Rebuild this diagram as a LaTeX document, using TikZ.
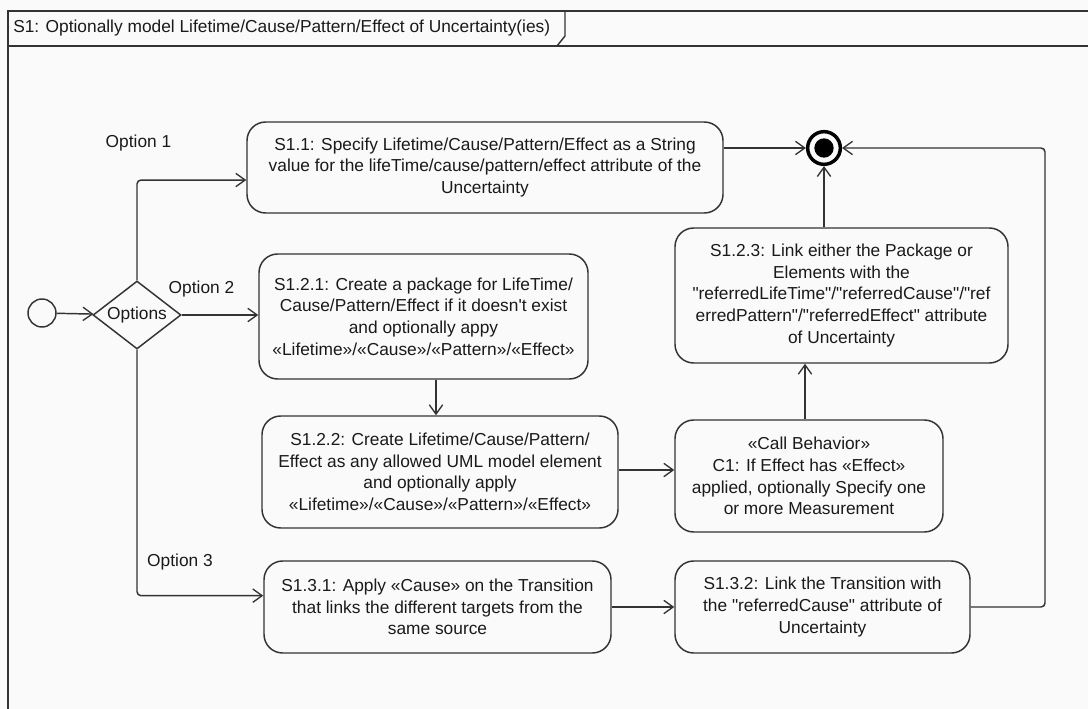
\documentclass[tikz,border=0pt]{standalone}
\usepackage{fontspec}
\setmainfont{Liberation Sans}[Ligatures=TeXOff]
\usetikzlibrary{arrows.meta,shapes.geometric}
\definecolor{ink}{HTML}{333333}
\definecolor{paper}{HTML}{FAFAFA}
\definecolor{txt}{HTML}{1A1A1A}
\begin{document}
\begin{tikzpicture}[x=0.75pt,y=-0.75pt,
  font=\fontsize{13}{16.2}\selectfont,
  action/.style={draw=ink,line width=1.1pt,rounded corners=14pt,align=center,
    inner sep=0pt,text=txt},
  flow/.style={draw=ink,line width=1.1pt,
    -{Straight Barb[length=7pt,width=10pt,line width=1pt]}},
  lbl/.style={inner sep=0pt,text=txt}]
% page and bounding box
\fill[paper] (0,0) rectangle (1088,709);
\useasboundingbox (0,0) rectangle (1088,709);

% activity frame with its name tab
\draw[ink,line width=1.1pt] (1095,11) -- (8,11) -- (8,715);
\draw[ink,line width=1.1pt] (8,46) -- (1095,46);
\draw[ink,line width=1.1pt] (565,11) -- (565,36) -- (557,46);
\node[lbl,anchor=west] (title) at (13,28.5)
  {S1: Optionally model Lifetime/Cause/Pattern/Effect of Uncertainty(ies)};

% control nodes
\node[draw=ink,line width=1.1pt,circle,minimum size=21pt,inner sep=0pt] (init) at (42,313) {};
\node[draw=ink,line width=1.1pt,diamond,minimum width=66pt,minimum height=51pt,
  inner sep=0pt,text=txt] (opts) at (137,315) {\makebox[0pt]{Options}};
\node[draw=black,line width=2.6pt,circle,minimum size=24.5pt,inner sep=0pt] (final) at (824,148) {};
\node[fill=black,circle,minimum size=14.5pt,inner sep=0pt] (finaldot) at (final.center) {};

% actions
\node[action,minimum width=357pt,minimum height=68.25pt] (s11) at (485,167.5)
  {S1.1: Specify Lifetime/Cause/Pattern/Effect as a String\\
   value for the lifeTime/cause/pattern/effect attribute of the\\
   Uncertainty};
\node[action,minimum width=246.75pt,minimum height=93.75pt] (s121) at (423.5,316.5)
  {S1.2.1: Create a package for LifeTime/\\
   Cause/Pattern/Effect if it doesn't exist\\
   and optionally appy\\
   «Lifetime»/«Cause»/«Pattern»/«Effect»};
\node[action,minimum width=249.75pt,minimum height=101.25pt] (s123) at (841.5,295.5)
  {S1.2.3: Link either the Package or\\
   Elements with the\\
   "referredLifeTime"/"referredCause"/"ref\\
   erredPattern"/"referredEffect" attribute\\
   of Uncertainty};
\node[action,minimum width=267pt,minimum height=84pt] (s122) at (440,472)
  {S1.2.2: Create Lifetime/Cause/Pattern/\\
   Effect as any allowed UML model element\\
   and optionally apply\\
   «Lifetime»/«Cause»/«Pattern»/«Effect»};
\node[action,minimum width=201pt,minimum height=84pt] (c1) at (809,476)
  {«Call Behavior»\\
   C1: If Effect has «Effect»\\
   applied, optionally Specify one\\
   or more Measurement};
\node[action,minimum width=260.25pt,minimum height=69pt] (s131) at (437.5,607)
  {S1.3.1: Apply «Cause» on the Transition\\
   that links the different targets from the\\
   same source};
\node[action,minimum width=221.25pt,minimum height=69pt] (s132) at (822.5,607)
  {S1.3.2: Link the Transition with\\
   the "referredCause" attribute of\\
   Uncertainty};

% guard labels
\node[lbl] (opt1) at (138.5,143) {Option 1};
\node[lbl] (opt2) at (201.5,289.5) {Option 2};
\node[lbl] (opt3) at (180,562) {Option 3};

% return path corner
\coordinate (rt) at (1045,148);

% flows
\draw[flow] (init) -- (opts);
\draw[flow,rounded corners=3pt] (opts.north) |- ([yshift=-9.4pt]s11.west);
\draw[flow] (opts.east) -- (opts.east -| s121.west);
\draw[flow,rounded corners=3pt] (opts.south) |- ([yshift=8.5pt]s131.west);
\draw[flow] (s11.east |- final) -- (final);
\draw[flow] (final |- s123.north) -- (final);
\draw[flow,rounded corners=3pt] (s132.east) -| (rt) -- (final);
\draw[flow] ([xshift=-3pt]s121.south -| s122.north) -- ([xshift=-3pt]s122.north);
\draw[flow] ([yshift=1.5pt]s122.east) -- ([yshift=1.5pt]s122.east -| c1.west);
\draw[flow] ([xshift=-3pt]c1.north) -- ([xshift=-3pt]c1.north |- s123.south);
\draw[flow] (s131.east) -- (s132.west);
\end{tikzpicture}
\end{document}
